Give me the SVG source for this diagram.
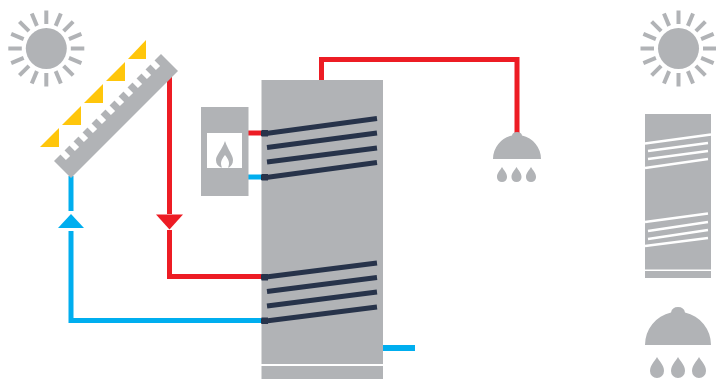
<svg xmlns="http://www.w3.org/2000/svg" xmlns:xlink="http://www.w3.org/1999/xlink" width="716" height="381" viewBox="0 0 716 381">
<style>
.g{fill:#b1b3b6}
.pipe{fill:none;stroke-width:5;stroke-linejoin:miter}
.r{stroke:#ed1c24}
.b{stroke:#00aeef}
.coil{fill:none;stroke:#27334a;stroke-width:5}
.sq{fill:#27334a}
.wcoil{fill:none;stroke:#fff;stroke-width:2.5}
.ray{stroke:#b1b3b6;stroke-width:4}
.notch{stroke:#fff;stroke-width:6}
.y{fill:#ffc60b}
</style>
<defs>
<g id="sun">
<circle r="20.5" class="g"/>
<g id="rays">
<line class="ray" x1="0" y1="-24.5" x2="0" y2="-38"/>
<line class="ray" x1="0" y1="-24.5" x2="0" y2="-38" transform="rotate(22.5)"/>
<line class="ray" x1="0" y1="-24.5" x2="0" y2="-38" transform="rotate(45)"/>
<line class="ray" x1="0" y1="-24.5" x2="0" y2="-38" transform="rotate(67.5)"/>
<line class="ray" x1="0" y1="-24.5" x2="0" y2="-38" transform="rotate(90)"/>
<line class="ray" x1="0" y1="-24.5" x2="0" y2="-38" transform="rotate(112.5)"/>
<line class="ray" x1="0" y1="-24.5" x2="0" y2="-38" transform="rotate(135)"/>
<line class="ray" x1="0" y1="-24.5" x2="0" y2="-38" transform="rotate(157.5)"/>
<line class="ray" x1="0" y1="-24.5" x2="0" y2="-38" transform="rotate(180)"/>
<line class="ray" x1="0" y1="-24.5" x2="0" y2="-38" transform="rotate(202.5)"/>
<line class="ray" x1="0" y1="-24.5" x2="0" y2="-38" transform="rotate(225)"/>
<line class="ray" x1="0" y1="-24.5" x2="0" y2="-38" transform="rotate(247.5)"/>
<line class="ray" x1="0" y1="-24.5" x2="0" y2="-38" transform="rotate(270)"/>
<line class="ray" x1="0" y1="-24.5" x2="0" y2="-38" transform="rotate(292.5)"/>
<line class="ray" x1="0" y1="-24.5" x2="0" y2="-38" transform="rotate(315)"/>
<line class="ray" x1="0" y1="-24.5" x2="0" y2="-38" transform="rotate(337.5)"/>
</g>
</g>
<path id="drop" d="M0 0C2 4 7 8 7 14A7 7 0 0 1 -7 14C-7 8 -2 4 0 0Z" class="g"/>
</defs>

<g id="connectors">
<path class="pipe r" d="M169.500 76V214"/>
<path class="pipe r" d="M169.500 230V276.500H262"/>
<path class="pipe b" d="M71 176V211"/>
<path class="pipe b" d="M71 231V320.500H262"/>
<path class="pipe r" d="M321.500 81V59.500H517V134"/>
<path class="pipe r" d="M248 133H262"/>
<path class="pipe b" d="M248 177H262"/>
<path d="M383 348H415" fill="none" stroke="#00aeef" stroke-width="6"/>
<polygon points="156,214.500 183,214.500 169.500,229.500" fill="#ed1c24"/>
<polygon points="58,228 84,228 71,214" fill="#00aeef"/>
</g>

<g id="sun-left"><use href="#sun" x="46.300" y="48.500"/></g>

<g id="collector">
<polygon class="y" points="40,147 59,147 59,128"/>
<polygon class="y" points="62,125 81,125 81,106"/>
<polygon class="y" points="84,103 103,103 103,84"/>
<polygon class="y" points="106,81 125,81 125,62"/>
<polygon class="y" points="128,59 146,59 146,40"/>
<polygon class="g" points="54,161 71,178 178,71 161,54"/>
<line class="notch" x1="60" y1="150" x2="68" y2="158"/>
<line class="notch" x1="69" y1="141" x2="77" y2="149"/>
<line class="notch" x1="78" y1="132" x2="86" y2="140"/>
<line class="notch" x1="87" y1="123" x2="95" y2="131"/>
<line class="notch" x1="96" y1="114" x2="104" y2="122"/>
<line class="notch" x1="105" y1="105" x2="113" y2="113"/>
<line class="notch" x1="114" y1="96" x2="122" y2="104"/>
<line class="notch" x1="123" y1="87" x2="131" y2="95"/>
<line class="notch" x1="132" y1="78" x2="140" y2="86"/>
<line class="notch" x1="141" y1="69" x2="149" y2="77"/>
<line class="notch" x1="150" y1="60" x2="158" y2="68"/>
</g>

<g id="boiler">
<rect class="g" x="201" y="107" width="47.500" height="89"/>
<rect x="207" y="133" width="35" height="35" fill="#fff"/>
<path class="g" d="M225 141C228 150 233 155 233 160C233 164 231 166 229 167.500H228C230 163 229 160 225 155C221 160 220 163 222 167.500H221C218 166 216 164 216 160C216 155 222 150 225 141Z"/>
</g>

<g id="tank">
<rect class="g" x="261.500" y="80" width="121.500" height="284"/>
<rect class="g" x="261.500" y="366" width="121.500" height="13"/>
<path class="coil" d="M261 133.500H266L377 118.500M267 147.500L377 133M267 162L377 148M261 177.500H266L377 162.500"/>
<path class="coil" d="M261 277H266L377 263M267 291.500L377 277.500M267 306L377 292M261 321H266L377 307"/>
<rect class="sq" x="261.500" y="130" width="6.500" height="6.500"/>
<rect class="sq" x="261.500" y="174" width="6.500" height="6.500"/>
<rect class="sq" x="261.500" y="274" width="6.500" height="6.500"/>
<rect class="sq" x="261.500" y="317.500" width="6.500" height="6.500"/>
</g>

<g id="shower">
<path class="g" d="M493 159A24 24 0 0 1 512 135.500Q512.500 132 517 132Q521.500 132 522 135.500A24 24 0 0 1 541 159Z"/>
<use href="#drop" transform="translate(502 167) scale(.72)"/>
<use href="#drop" transform="translate(516.500 167) scale(.72)"/>
<use href="#drop" transform="translate(531 167) scale(.72)"/>
</g>

<g id="sun-right"><use href="#sun" x="678.500" y="48.500"/></g>

<g id="tank-legend">
<rect class="g" x="645" y="114" width="66" height="155.500"/>
<rect class="g" x="645" y="271" width="66" height="7"/>
<path class="wcoil" d="M645 143.500L711 134.500M648 151L708 143M648 159L708 151M645 168L708 159"/>
<path class="wcoil" d="M645 222L708 213.500M648 231L708 222M648 239L708 230M645 246L708 238"/>
</g>

<g id="shower-legend">
<path class="g" d="M645 345A33 33 0 0 1 671 312.500Q672 307 678 307Q684 307 685 312.500A33 33 0 0 1 711 345Z"/>
<use href="#drop" x="657" y="357"/>
<use href="#drop" x="678" y="357"/>
<use href="#drop" x="699" y="357"/>
</g>
</svg>
